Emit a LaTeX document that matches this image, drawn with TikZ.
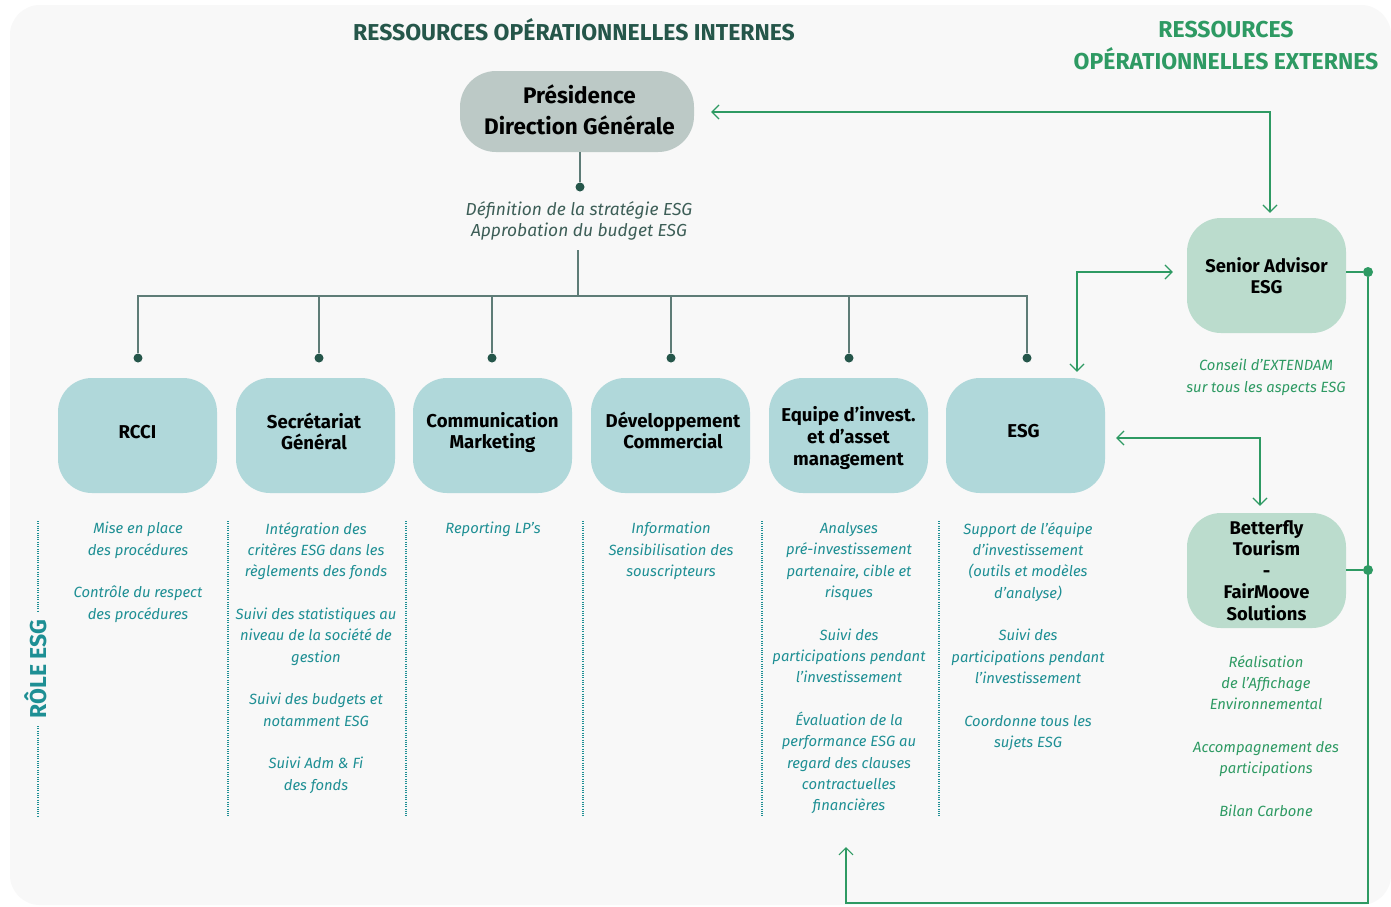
\documentclass[tikz,border=0pt]{standalone}
\usepackage{fontspec}
\setmainfont{Fira Sans}
\usetikzlibrary{arrows.meta}
\definecolor{bgc}{HTML}{F8F8F8}
\definecolor{darkgreen}{HTML}{25564A}
\definecolor{extgreen}{HTML}{2E9A63}
\definecolor{treeline}{HTML}{5E7C77}
\definecolor{presfill}{HTML}{BCC9C6}
\definecolor{deptfill}{HTML}{B0D8DA}
\definecolor{extfill}{HTML}{BBDCCD}
\definecolor{teal}{HTML}{1E8F94}
\definecolor{subtxt}{HTML}{3D5E57}
\tikzset{
  dept/.style={fill=deptfill, rounded corners=34pt, minimum width=159pt, minimum height=115pt, inner sep=0pt},
  depttext/.style={inner sep=0pt, align=center, font=\fontsize{18.6}{21.6}\selectfont\bfseries},
  extbox/.style={fill=extfill, rounded corners=34pt, minimum width=159pt, minimum height=115pt, inner sep=0pt, align=center, font=\fontsize{18.4}{21.5}\selectfont\bfseries},
  roletxt/.style={anchor=north, inner sep=0pt, align=center, text=teal, font=\fontsize{14.8}{21.35}\selectfont\itshape},
  exttxt/.style={anchor=north, inner sep=0pt, align=center, text=extgreen, font=\fontsize{14.8}{21.35}\selectfont\itshape},
  treedot/.style={circle, fill=darkgreen, inner sep=0pt, minimum size=9pt},
  extdot/.style={circle, fill=extgreen, inner sep=0pt, minimum size=10pt},
  treeconn/.style={draw=treeline, line width=1.4pt},
  extconn/.style={draw=extgreen, line width=1.4pt},
  extarrow/.style={extconn, arrows={Straight Barb[length=7pt,width=14pt,line width=1.2pt]-Straight Barb[length=7pt,width=14pt,line width=1.2pt]}},
  onearrow/.style={extconn, arrows={-Straight Barb[length=7pt,width=14pt,line width=1.2pt]}},
  dotline/.style={draw=teal, line width=1.2pt, dash pattern=on 1pt off 1.3pt},
}
\begin{document}
\begin{tikzpicture}[x=1pt,y=-1pt]
\useasboundingbox (0,0) rectangle (1391,906);
\fill[white] (0,0) rectangle (1391,906);
\fill[bgc, rounded corners=30pt] (10,5) rectangle (1391,905);

% titles
\node[text=darkgreen, font=\fontsize{23}{26}\selectfont\bfseries] (tint) at (574,30) {RESSOURCES OPÉRATIONNELLES INTERNES};
\node[text=extgreen, align=center, font=\fontsize{23}{32}\selectfont\bfseries, anchor=north] (text) at (1226,18) {RESSOURCES\\OPÉRATIONNELLES EXTERNES};

% presidence
\node[fill=presfill, rounded corners=36pt, minimum width=234pt, minimum height=81pt, inner sep=0pt] (pres) at (577,111.5) {};
\node[inner sep=0pt, align=center, font=\fontsize{22.5}{31}\selectfont\bfseries] (prest) at ([xshift=2.5pt,yshift=1.5pt]pres.center) {Présidence\\Direction Générale};
\node[treedot] (pdot) at (580,187) {};
\draw[treeconn] (pres.south -| pdot) -- (pdot);
\node[text=subtxt, align=center, font=\fontsize{17.4}{21}\selectfont\itshape] (strat) at (579,221) {Définition de la stratégie ESG\\Approbation du budget ESG};

% departments
\node[dept] (rcci) at (137.5,435.5) {};
\node[dept] (sg) at (315.5,435.5) {};
\node[dept] (comm) at (492.5,435.5) {};
\node[dept] (dev) at (670.5,435.5) {};
\node[dept] (inv) at (848.5,435.5) {};
\node[dept] (esg) at (1025.5,435.5) {};
\node[depttext] (rccit) at ([yshift=3pt]rcci.center) {RCCI};
\node[depttext] (sgt) at ([xshift=-1.5pt,yshift=4pt]sg.center) {Secrétariat\\Général};
\node[depttext] (commt) at ([yshift=3pt]comm.center) {Communication\\Marketing};
\node[depttext] (devt) at ([xshift=2.5pt,yshift=5pt]dev.center) {Développement\\Commercial};
\node[depttext] (invt) at ([yshift=-2.5pt]inv.center) {Equipe d’invest.\\et d’asset\\management};
\node[depttext] (esgt) at ([xshift=-2pt,yshift=4pt]esg.center) {ESG};

% tree
\coordinate (hub) at (578,296);
\coordinate (stratb) at (578,250);
\draw[treeconn] (stratb) -- (hub);
\foreach \n/\x in {d1/138, d2/319, d3/492, d4/671, d5/849, d6/1027}{
  \node[treedot] (\n) at (\x,358) {};
}
\draw[treeconn] (d1) -- (d1 |- hub) -- (d6 |- hub) -- (d6);
\foreach \n in {d2,d3,d4,d5}{ \draw[treeconn] (\n |- hub) -- (\n); }

% dotted separators
\coordinate (s1t) at (38,521); \coordinate (s1b) at (38,816);
\draw[dotline] (s1t) -- (38,612);
\draw[dotline] (38,726) -- (s1b);
\node[rotate=90, text=teal, font=\fontsize{23}{26}\selectfont\bfseries] (role) at (36,669) {RÔLE ESG};
\foreach \x in {228,406,583,762,939}{ \draw[dotline] (\x,521) -- (\x,816); }

% role texts
\node[roletxt] (t1) at (138,522) {Mise en place\\des procédures\\[21.35pt]Contrôle du respect\\des procédures};
\node[roletxt] (t2) at (316,522) {Intégration des\\critères ESG dans les\\règlements des fonds\\[21.35pt]Suivi des statistiques au\\niveau de la société de\\gestion\\[21.35pt]Suivi des budgets et\\notamment ESG\\[21.35pt]Suivi Adm \& Fi\\des fonds};
\node[roletxt] (t3) at (493,522) {Reporting LP’s};
\node[roletxt] (t4) at (671,522) {Information\\Sensibilisation des\\souscripteurs};
\node[roletxt] (t5) at (849,522) {Analyses\\pré-investissement\\partenaire, cible et\\risques\\[21.35pt]Suivi des\\participations pendant\\l’investissement\\[21.35pt]Évaluation de la\\performance ESG au\\regard des clauses\\contractuelles\\financières};
\node[roletxt] (t6) at (1028,522) {Support de l’équipe\\d’investissement\\(outils et modèles\\d’analyse)\\[21.35pt]Suivi des\\participations pendant\\l’investissement\\[21.35pt]Coordonne tous les\\sujets ESG};

% external
\node[extbox] (sen) at (1266.5,275.5) {Senior Advisor\\ESG};
\node[exttxt] (sentxt) at (1266,359) {Conseil d’EXTENDAM\\sur tous les aspects ESG};
\node[extbox] (bet) at (1266.5,570.5) {Betterfly\\Tourism\\-\\FairMoove\\Solutions};
\node[exttxt] (bettxt) at (1266,655) {Réalisation\\de l’Affichage\\Environnemental\\[21.35pt]Accompagnement des\\participations\\[21.35pt]Bilan Carbone};

% external connectors
\coordinate (c1) at (1270,112);
\draw[extarrow] ([yshift=5pt]c1 |- sen.north) -- (c1) -- ([xshift=17pt]pres.east |- c1);
\coordinate (c2) at (1077,272);
\draw[extarrow] ([xshift=-14pt]sen.west |- c2) -- (c2) -- ([yshift=6pt]c2 |- esg.north);
\coordinate (c3) at (1260,438);
\draw[extarrow] ([xshift=11pt]esg.east |- c3) -- (c3) -- ([yshift=7pt]c3 |- bet.north);

\node[extdot] (sdot) at (1368,272) {};
\node[extdot] (bdot) at (1368,570) {};
\draw[extconn] (sen.east |- sdot) -- (sdot);
\draw[extconn] (bet.east |- bdot) -- (bdot);
\coordinate (cb) at (1368,903);
\coordinate (ca) at (846,847);
\draw[onearrow] (sdot) -- (cb) -- (ca |- cb) -- (ca);
\end{tikzpicture}
\end{document}
